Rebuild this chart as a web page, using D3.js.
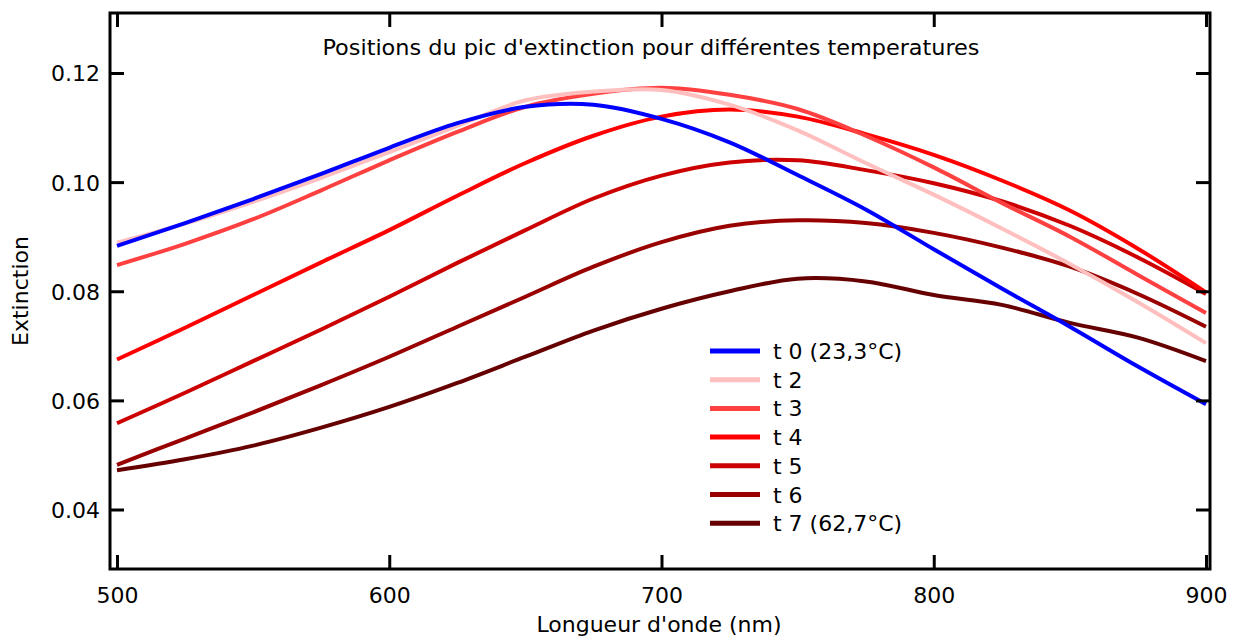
<!DOCTYPE html>
<html><head><meta charset="utf-8">
<script src="https://cdn.jsdelivr.net/npm/d3@7"></script>
<style>body{margin:0;background:#fff}svg{display:block}</style>
</head><body>
<svg id="c" width="1236" height="638"></svg>
<script>
const wavelengths = [500,525,550,575,600,625,650,675,700,725,750,775,800,825,850,875,900];
const t0 = [0.0883,0.0925,0.0969,0.1015,0.1063,0.1108,0.1138,0.1142,0.1116,0.1073,0.1013,0.0950,0.0877,0.0805,0.0735,0.0662,0.0593];
const t2 = [0.0889,0.0924,0.0964,0.1008,0.1055,0.1103,0.1150,0.1166,0.1169,0.1142,0.1095,0.1035,0.0977,0.0915,0.0850,0.0780,0.0705];
const t3 = [0.0848,0.0887,0.0932,0.0985,0.1040,0.1092,0.1138,0.1162,0.1173,0.1160,0.1134,0.1085,0.1027,0.0962,0.0900,0.0830,0.0760];
const t4 = [0.0675,0.0733,0.0793,0.0853,0.0912,0.0975,0.1035,0.1085,0.1120,0.1133,0.1120,0.1088,0.1050,0.1003,0.0948,0.0878,0.0798];
const t5 = [0.0558,0.0614,0.0672,0.0730,0.0790,0.0852,0.0912,0.0970,0.1012,0.1036,0.1040,0.1022,0.0998,0.0965,0.0920,0.0862,0.0795];
const t6 = [0.0482,0.0530,0.0578,0.0628,0.0680,0.0735,0.0790,0.0845,0.0890,0.0920,0.0930,0.0925,0.0907,0.0880,0.0845,0.0795,0.0735];
const t7 = [0.0472,0.0492,0.0517,0.0550,0.0588,0.0632,0.0680,0.0728,0.0768,0.0800,0.0823,0.0818,0.0793,0.0775,0.0742,0.0715,0.0672];
const seriesNames = ["t 0 (23,3°C)","t 2","t 3","t 4","t 5","t 6","t 7 (62,7°C)"];
const seriesColors = ["#0000ff","#ffbfbf","#ff4040","#ff0000","#cc0000","#990000","#660000"];
const xTicks = [500,600,700,800,900];
const yTicks = [0.04,0.06,0.08,0.10,0.12];
const title = "Positions du pic d'extinction pour différentes temperatures";
const xLabel = "Longueur d'onde (nm)";
const yLabel = "Extinction";

const seriesValues = [t0,t2,t3,t4,t5,t6,t7];
const svg = d3.select("#c");
const F = "DejaVu Sans, Verdana, sans-serif";
const frame = {l:110, r:1210, t:13, b:569};
const x = d3.scaleLinear().domain([500,900]).range([117,1206]);
const y = d3.scaleLinear().domain([0.04,0.12]).range([509.5,73]);

const line = d3.line().x(d=>x(d[0])).y(d=>y(d[1])).curve(d3.curveCatmullRom.alpha(0.5));
const order = [6,5,4,3,2,1,0];
order.forEach(i=>{
  const pts = wavelengths.map((w,j)=>[w, seriesValues[i][j]]);
  svg.append("path").attr("d", line(pts)).attr("fill","none")
    .attr("stroke", seriesColors[i]).attr("stroke-width",4).attr("stroke-linejoin","round");
});

svg.append("rect").attr("x",frame.l).attr("y",frame.t).attr("width",frame.r-frame.l).attr("height",frame.b-frame.t)
  .attr("fill","none").attr("stroke","#000").attr("stroke-width",3);

const tl = 14;
const axL = d3.axisLeft(y).tickValues(yTicks).tickSize(-tl).tickPadding(10).tickFormat(d3.format(".2f"));
const gL = svg.append("g").attr("transform",`translate(${frame.l},0)`).call(axL);
const axR = d3.axisRight(y).tickValues(yTicks).tickSize(-tl).tickFormat("");
const gR = svg.append("g").attr("transform",`translate(${frame.r},0)`).call(axR);
const axB = d3.axisBottom(x).tickValues(xTicks).tickSize(-tl).tickPadding(18).tickFormat(d3.format("d"));
const gB = svg.append("g").attr("transform",`translate(0,${frame.b})`).call(axB);
const axT = d3.axisTop(x).tickValues(xTicks).tickSize(-tl).tickFormat("");
const gT = svg.append("g").attr("transform",`translate(0,${frame.t})`).call(axT);
[gL,gR,gB,gT].forEach(g=>{
  g.select(".domain").remove();
  g.selectAll(".tick line").attr("stroke","#000").attr("stroke-width",3);
  g.selectAll("text").attr("font-family",F).attr("font-size",22).attr("fill","#000");
});
gL.selectAll("text").attr("dy","0.36em");

svg.append("text").attr("x",651).attr("y",55).attr("text-anchor","middle")
  .attr("font-family","Liberation Sans Narrow, DejaVu Sans Condensed, sans-serif").attr("font-size",21)
  .attr("textLength",657).attr("lengthAdjust","spacingAndGlyphs").text(title);
svg.append("text").attr("x",659).attr("y",632).attr("text-anchor","middle")
  .attr("font-family",F).attr("font-size",22).text(xLabel);
svg.append("text").attr("transform","translate(28,291) rotate(-90)").attr("text-anchor","middle")
  .attr("font-family",F).attr("font-size",22).text(yLabel);

const lg = svg.append("g");
seriesNames.forEach((n,i)=>{
  const yy = 351 + i*28.7;
  lg.append("line").attr("x1",710).attr("x2",760).attr("y1",yy).attr("y2",yy)
    .attr("stroke",seriesColors[i]).attr("stroke-width",5);
  lg.append("text").attr("x",773).attr("y",yy+8).attr("font-family",F).attr("font-size",22).text(n);
});
</script>
</body></html>
